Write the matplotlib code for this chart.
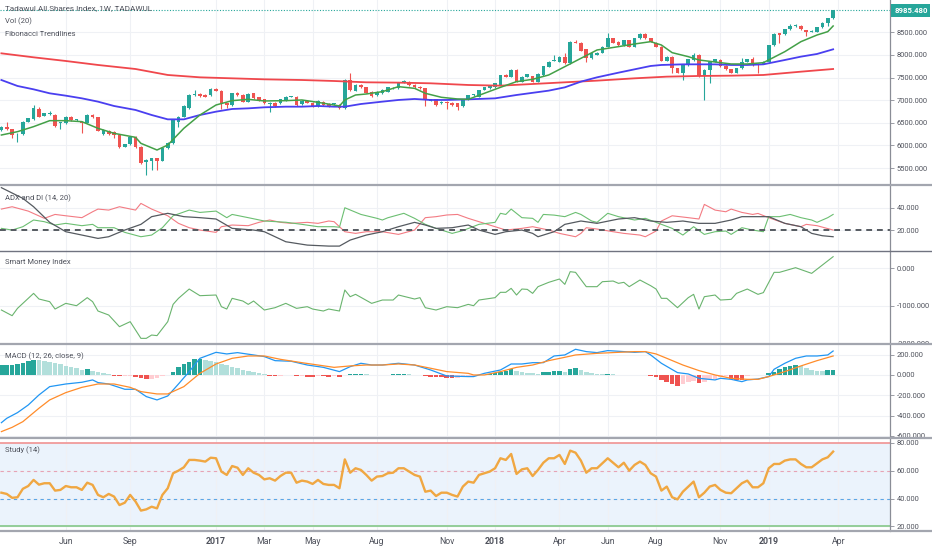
"""Tadawul All Shares Index weekly chart with ADX, SMI, MACD and RSI-style study panels."""

import matplotlib
matplotlib.use('Agg')
import matplotlib.pyplot as plt
from matplotlib.lines import Line2D
from matplotlib.transforms import Bbox, TransformedBbox
import numpy as np

plt.rcParams['font.family'] = ['Roboto', 'DejaVu Sans']

# ---- price candles (weekly bars, index 0 = first visible week) ----
opens = [6342, 6400, 6357, 6250, 6254, 6526, 6585, 6806, 6659, 6695,
         6673, 6500, 6489, 6637, 6563, 6526, 6504, 6673, 6622, 6254,
         6327, 6300, 6232, 5974, 6025, 6195, 5974, 5642, 5665, 5716,
         5665, 5937, 6047, 6526, 6636, 6820, 7115, 7137, 7115, 7115,
         7240, 7211, 6931, 6894, 7152, 7115, 6968, 7152, 7064, 7019,
         6916, 6946, 6931, 7005, 7078, 7078, 6916, 6990, 6946, 6872,
         6968, 6916, 6916, 6894, 6820, 7446, 7211, 7336, 7284, 7189,
         7115, 7152, 7189, 7262, 7262, 7410, 7410, 7336, 7299, 7262,
         6990, 7019, 6931, 6968, 6946, 6931, 6880, 7019, 7115, 7078,
         7226, 7262, 7284, 7336, 7557, 7520, 7667, 7410, 7520, 7535,
         7410, 7557, 7741, 7874, 7851, 7962, 7815, 8293, 8271, 8124,
         7925, 8000, 8050, 8183, 8367, 8293, 8219, 8330, 8183, 8367,
         8462, 8367, 8271, 8183, 7874, 7962, 7704, 7608, 7778, 7888,
         7999, 7535, 7667, 7851, 7888, 7756, 7682, 7608, 7704, 7851,
         7903, 7815, 7800, 7851, 8219, 8477, 8462, 8566, 8639, 8639,
         8540, 8514, 8514, 8610, 8713, 8808]
highs = [6420, 6526, 6370, 6280, 6540, 6610, 6894, 6850, 6720, 6769,
         6690, 6520, 6640, 6650, 6580, 6540, 6690, 6685, 6635, 6360,
         6340, 6330, 6250, 6040, 6210, 6210, 5990, 5700, 5730, 5730,
         5950, 6080, 6580, 6650, 6890, 7130, 7225, 7160, 7130, 7260,
         7270, 7225, 6940, 7170, 7180, 7130, 7150, 7170, 7080, 7030,
         6950, 6960, 7030, 7090, 7100, 7090, 7000, 7000, 6960, 7000,
         6980, 6930, 6935, 6905, 7460, 7608, 7350, 7350, 7300, 7200,
         7200, 7240, 7300, 7300, 7390, 7450, 7420, 7350, 7310, 7275,
         7030, 7030, 6980, 6980, 6960, 6940, 7030, 7125, 7140, 7235,
         7295, 7325, 7385, 7565, 7570, 7690, 7680, 7530, 7580, 7545,
         7590, 7765, 7865, 7999, 7975, 8050, 8300, 8330, 8285, 8140,
         8045, 8060, 8195, 8477, 8380, 8305, 8340, 8340, 8380, 8480,
         8490, 8380, 8285, 8195, 7975, 7975, 7715, 7790, 7915, 8050,
         8010, 7680, 7860, 7915, 7900, 7770, 7695, 7715, 7930, 7915,
         7947, 7830, 7865, 8230, 8475, 8490, 8580, 8680, 8680, 8655,
         8555, 8540, 8625, 8725, 8820, 8995]
lows = [6320, 6340, 6160, 6085, 6240, 6510, 6570, 6620, 6640, 6680,
        6400, 6357, 6470, 6550, 6545, 6268, 6490, 6610, 6310, 6240,
        6240, 6158, 5940, 5960, 6010, 5940, 5600, 5348, 5460, 5450,
        5650, 5925, 6030, 6400, 6620, 6800, 7100, 7080, 7060, 7100,
        7200, 6800, 6830, 6880, 7100, 6950, 6950, 7030, 6990, 6920,
        6750, 6860, 6920, 6990, 7060, 6880, 6900, 6930, 6860, 6860,
        6880, 6840, 6900, 6810, 6810, 7210, 7200, 7270, 7150, 7080,
        7100, 7140, 7180, 7250, 7250, 7390, 7320, 7270, 7250, 6872,
        6980, 6872, 6920, 6800, 6880, 6790, 6860, 7005, 7100, 7065,
        7215, 7250, 7275, 7325, 7505, 7505, 7395, 7400, 7505, 7395,
        7400, 7545, 7730, 7860, 7840, 7800, 7800, 8255, 8080, 7851,
        7910, 7990, 8040, 8170, 8255, 8205, 8205, 8170, 8170, 8355,
        8355, 8280, 8170, 7860, 7860, 7608, 7590, 7446, 7765, 7875,
        7520, 7005, 7388, 7840, 7740, 7670, 7590, 7595, 7690, 7840,
        7765, 7608, 7790, 7840, 8205, 8271, 8450, 8555, 8625, 8555,
        8418, 8500, 8500, 8600, 8639, 8795]
closes = [6400, 6357, 6232, 6262, 6526, 6600, 6820, 6637, 6710, 6700,
          6430, 6504, 6622, 6563, 6566, 6489, 6673, 6622, 6327, 6342,
          6254, 6232, 5959, 6025, 6195, 5959, 5620, 5680, 5716, 5660,
          5937, 6062, 6563, 6622, 6872, 7115, 7137, 7093, 7078, 7240,
          7211, 6931, 6894, 7152, 7115, 6968, 7137, 7041, 7005, 6931,
          6931, 6872, 7019, 7078, 7080, 6894, 6990, 6946, 6872, 6990,
          6894, 6857, 6920, 6820, 7446, 7226, 7336, 7284, 7167, 7093,
          7189, 7226, 7284, 7265, 7373, 7413, 7336, 7284, 7262, 7005,
          7019, 6894, 6968, 6946, 6900, 6860, 7019, 7115, 7118, 7226,
          7284, 7314, 7373, 7557, 7520, 7667, 7410, 7520, 7570, 7410,
          7579, 7756, 7851, 7878, 7962, 7815, 8293, 8271, 8094, 7925,
          8035, 8050, 8183, 8367, 8271, 8219, 8330, 8183, 8367, 8462,
          8367, 8293, 8183, 7874, 7962, 7704, 7608, 7778, 7903, 7999,
          7535, 7667, 7851, 7903, 7756, 7682, 7608, 7704, 7851, 7903,
          7778, 7812, 7851, 8219, 8462, 8440, 8566, 8639, 8642, 8566,
          8514, 8517, 8610, 8713, 8808, 8985.48]
last_price = 8985.48

# moving averages (bar index, value)
ma_fast_idx = [0, 3, 6, 9, 12, 15, 18, 21, 25, 26, 29, 31, 34, 37, 40, 43, 46, 49,
               53, 56, 59, 62, 63, 64, 66, 68, 71, 74, 77, 79, 82, 85, 87, 90, 93,
               96, 99, 102, 105, 108, 111, 115, 118, 121, 123, 125, 128, 130, 133,
               136, 139, 142, 146, 149, 152, 154, 155]
ma_fast_val = [6231, 6305, 6416, 6548, 6548, 6526, 6379, 6268, 6180, 6047, 5900,
               6010, 6379, 6673, 6894, 6990, 7019, 6983, 6990, 7005, 6953, 6894,
               6872, 7005, 7115, 7137, 7189, 7299, 7262, 7152, 7064, 7027, 7019,
               7152, 7284, 7410, 7461, 7557, 7741, 7925, 8109, 8183, 8242, 8293,
               8219, 8050, 7962, 7888, 7844, 7800, 7800, 7829, 8072, 8293, 8440,
               8514, 8639]
ma_mid_idx = [0, 3, 6, 9, 12, 15, 18, 21, 25, 28, 31, 34, 37, 40, 43, 46, 49, 53,
              56, 59, 62, 64, 67, 71, 74, 77, 80, 83, 87, 92, 96, 102, 105, 108,
              111, 115, 118, 121, 123, 127, 130, 133, 136, 139, 142, 146, 149, 152,
              155]
ma_mid_val = [7446, 7314, 7240, 7152, 7100, 7041, 6968, 6872, 6784, 6673, 6577,
              6577, 6673, 6747, 6806, 6820, 6843, 6857, 6857, 6872, 6857, 6857,
              6916, 6968, 7005, 7027, 7005, 7005, 7019, 7041, 7115, 7211, 7284,
              7410, 7505, 7608, 7682, 7756, 7778, 7792, 7792, 7792, 7778, 7778,
              7792, 7888, 7962, 8021, 8124]
ma_slow_idx = [0, 6, 12, 18, 25, 31, 37, 43, 49, 56, 62, 68, 74, 80, 87, 93, 99,
               105, 111, 118, 124, 130, 136, 142, 149, 155]
ma_slow_val = [8035, 7947, 7866, 7778, 7689, 7557, 7505, 7483, 7461, 7446, 7424,
               7395, 7388, 7373, 7336, 7321, 7358, 7395, 7432, 7483, 7520, 7535,
               7542, 7557, 7630, 7689]

# ADX and DI
di_plus_idx = [0, 2, 5, 8, 10, 12, 15, 17, 18, 20, 22, 25, 26, 28, 31, 33, 35, 37,
               40, 41, 43, 46, 48, 50, 52, 54, 57, 59, 61, 62, 64, 66, 68, 71, 74,
               77, 79, 81, 83, 85, 87, 89, 92, 94, 97, 99, 102, 104, 107, 108, 109,
               111, 114, 116, 119, 120, 122, 123, 125, 128, 130, 131, 133, 135, 136,
               138, 140, 141, 143, 146, 149, 150, 152, 155]
di_plus_val = [38.8, 40.9, 37.0, 30.5, 34.0, 32.8, 31.1, 36.4, 38.8, 37.9, 40.9,
               37.9, 43.9, 38.8, 32.8, 26.0, 22.1, 20.0, 17.9, 23.0, 24.5, 23.9,
               26.9, 29.0, 26.9, 26.0, 26.9, 26.0, 28.1, 27.5, 18.5, 17.0, 18.5,
               18.5, 16.1, 20.0, 31.1, 32.0, 33.5, 34.0, 30.5, 27.5, 23.0, 20.0,
               21.5, 23.0, 20.0, 17.0, 14.0, 17.0, 22.1, 20.9, 18.5, 17.0, 15.5,
               14.0, 19.1, 28.1, 32.8, 31.1, 29.9, 43.0, 37.9, 36.4, 38.8, 35.8,
               34.0, 34.9, 31.1, 26.0, 23.0, 25.1, 23.9, 20.0]
di_minus_idx = [0, 2, 4, 6, 8, 10, 12, 15, 17, 18, 21, 23, 26, 28, 30, 32, 35, 37,
                40, 42, 43, 46, 49, 53, 56, 59, 62, 63, 64, 67, 70, 71, 72, 75, 77,
                79, 81, 84, 86, 89, 92, 93, 94, 95, 97, 99, 100, 101, 103, 105, 107,
                108, 110, 111, 113, 115, 118, 120, 122, 125, 127, 129, 131, 133, 135,
                136, 138, 140, 142, 143, 145, 147, 149, 151, 152, 154, 155]
di_minus_val = [21.5, 20.0, 23.0, 29.0, 27.5, 24.5, 26.0, 23.9, 25.1, 22.1, 22.1,
                17.9, 14.0, 15.5, 22.1, 32.8, 37.9, 35.8, 37.0, 31.1, 34.0, 31.1,
                28.1, 27.0, 25.1, 23.0, 23.0, 22.5, 40.0, 34.0, 30.5, 29.0, 31.0,
                35.0, 30.5, 25.1, 21.5, 17.0, 19.5, 25.1, 26.9, 35.0, 34.0, 38.8,
                31.1, 30.5, 26.9, 34.0, 33.4, 32.0, 35.8, 34.0, 28.1, 26.9, 35.0,
                32.0, 29.0, 30.5, 26.9, 21.5, 15.5, 23.0, 16.1, 18.5, 19.1, 16.1,
                22.1, 20.0, 18.5, 32.0, 32.0, 34.0, 31.1, 29.0, 26.9, 31.1, 34.0]
adx_idx = [0, 4, 6, 9, 12, 15, 18, 20, 23, 26, 28, 31, 34, 37, 40, 43, 47, 49, 53,
           57, 61, 63, 65, 68, 71, 74, 77, 79, 81, 84, 87, 89, 92, 94, 97, 99, 100,
           103, 105, 108, 111, 115, 118, 121, 124, 127, 130, 133, 136, 138, 141,
           143, 146, 149, 151, 153, 155]
adx_val = [58.0, 48.4, 40.9, 26.9, 18.5, 15.5, 12.5, 14.0, 20.0, 25.1, 32.0, 35.0,
           32.0, 31.1, 29.9, 21.5, 20.0, 18.5, 9.5, 6.5, 5.6, 5.6, 11.0, 15.5, 18.5,
           23.0, 26.9, 24.5, 21.5, 22.1, 24.5, 20.0, 16.1, 18.5, 20.0, 17.0, 14.0,
           18.5, 25.1, 28.1, 26.0, 29.9, 31.1, 28.1, 26.9, 28.1, 26.0, 26.0, 29.0,
           32.0, 32.0, 32.0, 26.0, 23.0, 17.0, 14.9, 14.0]

# Smart Money Index
smi_idx = [0, 2, 3, 6, 7, 9, 10, 12, 14, 16, 17, 18, 20, 22, 24, 26, 27, 28, 29,
           31, 32, 33, 35, 37, 40, 41, 42, 43, 45, 46, 47, 49, 51, 53, 55, 57, 58,
           60, 61, 63, 64, 65, 66, 69, 71, 73, 74, 77, 78, 79, 81, 83, 85, 87, 88,
           89, 92, 93, 94, 95, 96, 97, 98, 99, 100, 102, 104, 105, 106, 107, 109,
           111, 112, 114, 115, 116, 117, 119, 121, 122, 123, 124, 126, 128, 129,
           130, 131, 133, 134, 136, 137, 139, 141, 142, 144, 145, 148, 151, 153, 155]
smi_val = [-1115, -1267, -1071, -670, -821, -892, -1089, -937, -1000, -785, -892,
           -1142, -1249, -1561, -1427, -1873, -1873, -1784, -1800, -1427, -964,
           -803, -554, -732, -714, -1026, -1089, -803, -875, -964, -875, -1115,
           -1053, -937, -1071, -1026, -1089, -1142, -1089, -1142, -580, -759,
           -696, -937, -848, -848, -714, -821, -785, -1053, -1115, -1026, -1053,
           -964, -1000, -848, -785, -642, -642, -536, -714, -554, -563, -670,
           -491, -375, -286, -429, -90, -108, -491, -491, -358, -340, -402, -375,
           -491, -313, -465, -554, -803, -803, -1053, -785, -696, -1089, -759,
           -714, -848, -830, -670, -554, -696, -650, -108, -108, 17, -135, 88, 311]

# MACD (12, 26, close, 9)
macd_idx = [0, 1, 3, 5, 7, 9, 12, 15, 17, 18, 20, 23, 25, 27, 29, 31, 33, 35, 37,
            40, 42, 44, 47, 49, 51, 54, 57, 60, 63, 65, 67, 69, 71, 74, 77, 80, 83,
            87, 88, 90, 93, 95, 97, 99, 101, 103, 105, 107, 109, 111, 113, 116, 118,
            120, 121, 123, 126, 128, 130, 133, 134, 136, 138, 139, 141, 143, 144,
            146, 148, 150, 152, 154, 155]
macd_val = [-470, -427, -371, -296, -197, -115, -89, -72, -49, -75, -89, -141, -141,
            -213, -246, -207, -89, 33, 164, 223, 207, 220, 197, 181, 141, 135, 98,
            75, 33, 82, 115, 98, 98, 115, 98, 49, -10, -16, -16, 16, 49, 108, 108,
            121, 121, 187, 197, 253, 230, 220, 240, 230, 223, 230, 197, 115, 23, 10,
            -33, -49, -33, -43, -66, -49, -40, -16, 56, 115, 164, 187, 187, 197, 236]
signal_idx = [0, 2, 4, 7, 9, 12, 15, 18, 21, 24, 26, 29, 31, 34, 37, 40, 43, 46, 49,
              52, 56, 59, 62, 65, 68, 71, 74, 77, 80, 83, 87, 88, 90, 93, 96, 99, 102,
              105, 107, 111, 115, 118, 120, 122, 124, 127, 130, 133, 136, 139, 141,
              143, 146, 149, 152, 155]
signal_val = [-558, -516, -460, -328, -246, -174, -122, -89, -89, -122, -164, -187,
              -187, -115, 16, 108, 164, 187, 187, 154, 121, 98, 75, 89, 98, 98, 108,
              98, 66, 33, 16, 0, 0, 33, 75, 98, 141, 174, 197, 213, 223, 230, 230,
              207, 164, 98, 43, 0, -33, -43, -43, -16, 33, 89, 141, 187]
macd_hist = [98, 98, 100, 105, 115, 135, 148, 145, 138, 128,
             118, 105, 92, 80, 68, 52, 56, 42, 28, 16,
             6, -8, -15, -10, -6, -18, -30, -40, -35, -28,
             -15, -5, 33, 75, 108, 131, 154, 160, 150, 140,
             125, 110, 95, 80, 65, 52, 40, 28, 15, 5,
             -8, -15, -8, -3, -5, -15, -12, -18, -20, -8,
             -15, -18, -15, -20, 3, 8, 10, 14, 6, 3,
             1, 3, 4, 6, 8, 9, 6, 3, -2, -10,
             -16, -18, -25, -28, -30, -28, -25, -18, -10, -3,
             3, 10, 23, 33, 40, 56, 40, 25, 20, 16,
             13, 25, 30, 35, 38, 30, 55, 66, 45, 30,
             20, 12, 8, 14, 6, 3, 1, -5, -1, 3,
             -2, -10, -25, -45, -66, -85, -105, -85, -68, -56,
             -82, -66, -52, -38, -20, -10, -40, -45, -47, -15,
             -5, -2, 0, 16, 33, 56, 75, 89, 98, 89,
             70, 50, 40, 38, 47, 50]

# Study (14)
study = [44.2, 43.3, 40.5, 40.9, 47.0, 49.0, 53.4, 50.0, 51.0, 51.0,
         45.7, 46.2, 49.0, 48.1, 48.1, 46.2, 51.4, 49.8, 42.6, 40.9,
         43.3, 41.4, 35.3, 37.0, 42.6, 37.8, 31.3, 32.2, 34.1, 32.9,
         42.6, 47.4, 58.2, 60.1, 62.5, 67.8, 67.8, 67.3, 66.6, 69.4,
         69.0, 59.4, 57.0, 63.4, 62.2, 57.0, 61.8, 58.6, 57.0, 53.8,
         54.6, 52.9, 56.2, 58.6, 58.6, 51.4, 52.9, 52.2, 50.5, 53.4,
         50.5, 49.8, 49.8, 47.4, 68.2, 58.6, 61.8, 60.6, 57.0, 52.9,
         55.8, 56.2, 58.2, 58.6, 61.8, 61.8, 59.4, 57.0, 55.8, 44.9,
         45.7, 41.8, 44.2, 44.2, 42.6, 41.4, 48.6, 52.2, 51.4, 57.0,
         58.2, 59.4, 61.8, 69.0, 67.8, 72.1, 57.7, 61.0, 61.8, 56.2,
         60.6, 65.8, 69.0, 69.0, 71.4, 64.9, 74.5, 73.0, 67.3, 58.6,
         61.8, 61.8, 65.4, 69.0, 65.8, 62.5, 65.8, 60.1, 64.2, 66.6,
         64.2, 58.2, 55.8, 45.7, 48.6, 40.9, 39.4, 44.9, 48.6, 52.2,
         40.9, 44.2, 48.6, 49.8, 46.2, 44.2, 43.8, 47.4, 51.0, 52.9,
         48.1, 48.1, 51.0, 61.8, 64.9, 64.9, 67.3, 68.2, 68.2, 64.9,
         62.5, 62.5, 65.4, 68.2, 69.7, 73.8]

# date axis
tick_idx = [12, 24, 40, 49, 58, 70, 83, 92, 104, 113, 122, 134, 143, 156]
tick_lbl = ['Jun', 'Sep', '2017', 'Mar', 'May', 'Aug', 'Nov', '2018', 'Apr', 'Jun',
            'Aug', 'Nov', '2019', 'Apr']

# ---- layout (pixels) ----
W, H = 932, 550
AX_R = 890
XLIM = (-0.26, 165.6)
UP, DOWN = '#26a69a', '#ef5350'
TXT = '#4f525c'
GRID = '#eff1f5'
SEP = '#a3a6af'

fig = plt.figure(figsize=(W / 100, H / 100), dpi=100)
fig.patch.set_facecolor('white')


def panel(top, bottom, ylim, yticks):
    ax = fig.add_axes([0, 1 - bottom / H, AX_R / W, (bottom - top) / H])
    ax.set_xlim(*XLIM)
    ax.set_ylim(*ylim)
    ax.set_xticks(tick_idx)
    ax.set_xticklabels([])
    ax.tick_params(axis='x', length=0)
    ax.yaxis.tick_right()
    ax.set_yticks(yticks)
    ax.set_yticklabels([f'{v:.3f}' for v in yticks])
    ax.tick_params(axis='y', length=3, width=0.6, color='#8a8d96',
                   labelsize=5.4, labelcolor=TXT, pad=2)
    # labels that run past the panel edge get cut, as on the source chart
    clip = TransformedBbox(Bbox([[0, 1 - bottom / H], [1, 1 - top / H]]), fig.transFigure)
    for t in ax.get_yticklabels():
        t.set_clip_box(clip)
        t.set_clip_on(True)
    ax.grid(True, color=GRID, lw=0.8)
    ax.set_axisbelow(True)
    for side in ('left', 'top', 'bottom'):
        ax.spines[side].set_visible(False)
    ax.spines['right'].set_color('#8a8d96')
    ax.spines['right'].set_linewidth(0.9)
    return ax


def separator(y, color=SEP, lw=1.6):
    fig.add_artist(Line2D([0, 1], [1 - y / H] * 2, color=color, lw=lw,
                          transform=fig.transFigure, zorder=10))


def title(text, y, size=5.5):
    fig.text(5 / W, 1 - y / H, text, fontsize=size, color=TXT, va='center', ha='left')


bars = np.arange(len(closes))
o = np.array(opens, float)
c = np.array(closes, float)
hi = np.array(highs, float)
lo = np.array(lows, float)
col = np.where(c >= o, UP, DOWN)

# main price panel
ax = panel(0, 185, (5127, 9213), [5500, 6000, 6500, 7000, 7500, 8000, 8500])
body_lo = np.minimum(o, c)
body_h = np.maximum(np.abs(c - o), 12)
ax.vlines(bars, lo, hi, colors=col, lw=0.8, zorder=2)
ax.bar(bars, body_h, bottom=body_lo, width=0.68, color=col, zorder=3, linewidth=0)
ax.plot(ma_slow_idx, ma_slow_val, color='#f0474c', lw=1.3, zorder=4)
ax.plot(ma_mid_idx, ma_mid_val, color='#4a3ff0', lw=1.3, zorder=4)
ax.plot(ma_fast_idx, ma_fast_val, color='#43a047', lw=1.1, zorder=4)
ax.axhline(last_price, color=UP, lw=0.8, ls=(0, (1, 1.5)), zorder=1)
ax.annotate(f'{last_price:.3f}', xy=(1, last_price), xycoords=('axes fraction', 'data'),
            xytext=(3, 0), textcoords='offset points', ha='left', va='center',
            fontsize=5.6, color='white', fontweight='bold',
            bbox=dict(boxstyle='square,pad=0.35', fc=UP, ec='none'))
title('Tadawul All Shares Index, 1W, TADAWUL', 8, 5.9)
title('Vol (20)', 21)
title('Fibonacci Trendlines', 34)

# ADX and DI
ax = panel(185, 251, (1.2, 60.4), [20, 40])
ax.plot(di_plus_idx, di_plus_val, color='#f37b83', lw=0.8)
ax.plot(di_minus_idx, di_minus_val, color='#6cbf72', lw=0.8)
ax.plot(adx_idx, adx_val, color='#555a60', lw=0.9)
ax.axhline(20, color='#555a60', lw=1.4, ls=(0, (3, 2.5)))
title('ADX and DI (14, 20)', 198)

# Smart Money Index
ax = panel(251, 344, (-2024, 463), [0, -1000, -2000])
ax.plot(smi_idx, smi_val, color='#6ab46e', lw=0.8)
title('Smart Money Index', 262)

# MACD
ax = panel(344, 438, (-621, 305), [200, 0, -200, -400, -600])
h = np.array(macd_hist, float)
prev = np.concatenate([[h[0] - 1], h[:-1]])
hcol = np.where(h >= 0, np.where(h >= prev, '#26a69a', '#b2dfdb'),
                np.where(h < prev, '#ef5350', '#ffcdd2'))
ax.bar(np.arange(len(h)), h, width=0.85, color=hcol, linewidth=0, zorder=2)
ax.plot(macd_idx, macd_val, color='#2196f3', lw=0.9, zorder=3)
ax.plot(signal_idx, signal_val, color='#ff8c2a', lw=0.9, zorder=3)
title('MACD (12, 26, close, 9)', 356)

# Study (14)
ax = panel(438, 531, (16.6, 83.6), [20, 40, 60, 80])
ax.axhspan(20, 80, color='#ebf3fc', zorder=0)
ax.axhline(80, color='#f08a8a', lw=1.1)
ax.axhline(60, color='#e6a3b5', lw=0.8, ls=(0, (3, 3)))
ax.axhline(40, color='#5ca6e6', lw=0.8, ls=(0, (3, 3)))
ax.axhline(20, color='#7cc47f', lw=1.1)
ax.plot(bars, study, color='#f0a742', lw=1.7, zorder=3)
ax.set_xticklabels(tick_lbl)
ax.tick_params(axis='x', labelsize=6.3, labelcolor=TXT, pad=4)
for t in ax.get_xticklabels():
    if t.get_text().isdigit():
        t.set_fontweight('bold')
title('Study (14)', 450)

separator(185)
separator(251, '#707380', 1.0)
separator(344)
separator(438)
separator(531)

fig.savefig('out.png', dpi=100, facecolor='white')
